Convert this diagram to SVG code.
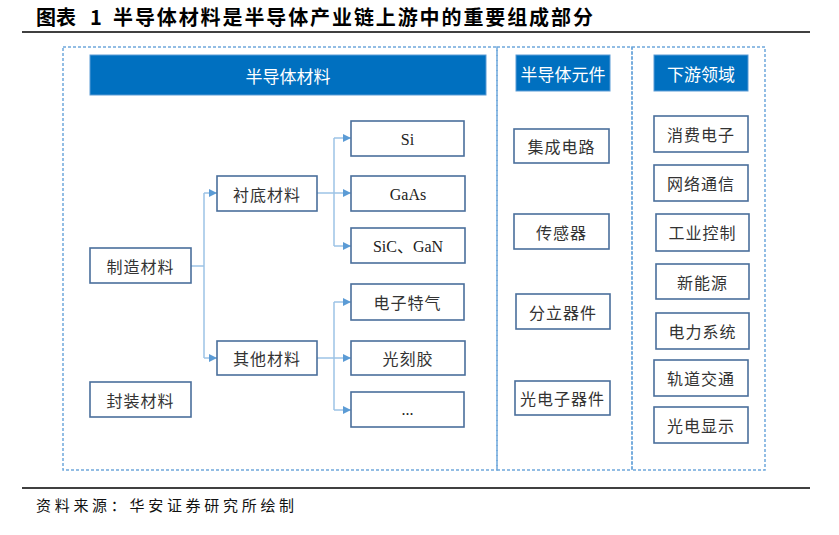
<svg xmlns="http://www.w3.org/2000/svg" width="839" height="535" viewBox="0 0 839 535">
<style>
.title{font-family:"Noto Sans CJK SC","Liberation Sans",sans-serif;font-weight:bold;font-size:20px;fill:#000}
.src{font-family:"Noto Sans CJK SC",sans-serif;font-size:15px;fill:#111;letter-spacing:3.7px}
.panel{fill:none;stroke:#6fa8dc;stroke-width:1.5;stroke-dasharray:3 2}
.hdr{fill:#0070c0;stroke:#5b9bd5;stroke-width:1}
.hdrt{font-family:"Noto Sans CJK SC",sans-serif;font-size:17px;fill:#fff;text-anchor:middle;dominant-baseline:central}
.box{fill:#fff;stroke:#4a6f9c;stroke-width:1.6}
.t{font-family:"Noto Sans CJK SC",sans-serif;font-size:16px;fill:#333;text-anchor:middle;dominant-baseline:central;letter-spacing:1px}
.tl{font-family:"Liberation Serif","Noto Sans CJK SC",serif;font-size:16px;fill:#222;text-anchor:middle;dominant-baseline:central}
.rule{stroke:#000;stroke-width:1.3}
.conn{fill:none;stroke:#9dc3e6;stroke-width:1.5}
</style>
<defs>
<marker id="arr" viewBox="0 0 10 10" refX="10" refY="5" markerWidth="8" markerHeight="8" markerUnits="userSpaceOnUse" orient="auto">
<path d="M0,0 L10,5 L0,10 z" fill="#5b9bd5"/>
</marker>
</defs>

<g id="title">
<text class="title" x="36" y="25">图表</text>
<text class="title" x="90" y="25">1</text>
<text class="title" x="113" y="25" letter-spacing="1.9">半导体材料是半导体产业链上游中的重要组成部分</text>
<line class="rule" x1="22" y1="32" x2="810" y2="32"/>
</g>

<g id="panels">
<rect class="panel" x="63" y="47" width="434" height="423"/>
<rect class="panel" x="497" y="47" width="135" height="423"/>
<rect class="panel" x="632" y="47" width="133" height="423"/>
</g>

<g id="header-materials"><rect class="hdr" x="90" y="55" width="396" height="40"/><text class="hdrt" x="288" y="75">半导体材料</text></g>
<g id="header-components"><rect class="hdr" x="516" y="55" width="94" height="36"/><text class="hdrt" x="563" y="73">半导体元件</text></g>
<g id="header-downstream"><rect class="hdr" x="654" y="55" width="94" height="36"/><text class="hdrt" x="701" y="73">下游领域</text></g>

<g id="connectors">
<path class="conn" d="M191,266 H204"/>
<path class="conn" d="M204,193 V358"/>
<path class="conn" d="M204,193 H217" marker-end="url(#arr)"/>
<path class="conn" d="M204,358 H217" marker-end="url(#arr)"/>
<path class="conn" d="M317,193 H334"/>
<path class="conn" d="M334,138 V246"/>
<path class="conn" d="M334,138 H351" marker-end="url(#arr)"/>
<path class="conn" d="M334,193 H351" marker-end="url(#arr)"/>
<path class="conn" d="M334,246 H351" marker-end="url(#arr)"/>
<path class="conn" d="M317,358 H334"/>
<path class="conn" d="M334,302 V410"/>
<path class="conn" d="M334,302 H351" marker-end="url(#arr)"/>
<path class="conn" d="M334,358 H351" marker-end="url(#arr)"/>
<path class="conn" d="M334,410 H351" marker-end="url(#arr)"/>
</g>

<g id="node-manufacturing"><rect class="box" x="90" y="248" width="101" height="35"/><text class="t" x="140.5" y="266">制造材料</text></g>
<g id="node-packaging"><rect class="box" x="90" y="382" width="101" height="35"/><text class="t" x="140.5" y="400">封装材料</text></g>
<g id="node-substrate"><rect class="box" x="217" y="176" width="100" height="35"/><text class="t" x="267" y="194">衬底材料</text></g>
<g id="node-other"><rect class="box" x="217" y="341" width="100" height="34"/><text class="t" x="267" y="358">其他材料</text></g>
<g id="node-si"><rect class="box" x="351" y="121" width="113" height="35"/><text class="tl" x="407.5" y="139">Si</text></g>
<g id="node-gaas"><rect class="box" x="351" y="176" width="114" height="35"/><text class="tl" x="408" y="194">GaAs</text></g>
<g id="node-sic"><rect class="box" x="351" y="228" width="114" height="35"/><text class="tl" x="408" y="246">SiC、GaN</text></g>
<g id="node-gas"><rect class="box" x="351" y="284" width="113" height="36"/><text class="t" x="407.5" y="302">电子特气</text></g>
<g id="node-photoresist"><rect class="box" x="351" y="341" width="114" height="34"/><text class="t" x="408" y="358">光刻胶</text></g>
<g id="node-etc"><rect class="box" x="351" y="392" width="113" height="35"/><text class="tl" x="407.5" y="409" font-size="13">...</text></g>

<g id="node-ic"><rect class="box" x="514" y="129" width="95" height="34"/><text class="t" x="561.5" y="146">集成电路</text></g>
<g id="node-sensor"><rect class="box" x="514" y="214" width="95" height="35"/><text class="t" x="561.5" y="232">传感器</text></g>
<g id="node-discrete"><rect class="box" x="516" y="294" width="94" height="35"/><text class="t" x="563" y="312">分立器件</text></g>
<g id="node-opto"><rect class="box" x="515" y="381" width="95" height="34"/><text class="t" x="562.5" y="398" letter-spacing="0">光电子器件</text></g>

<g id="node-consumer"><rect class="box" x="654" y="116" width="94" height="36"/><text class="t" x="701" y="134">消费电子</text></g>
<g id="node-network"><rect class="box" x="654" y="165" width="94" height="36"/><text class="t" x="701" y="183">网络通信</text></g>
<g id="node-industrial"><rect class="box" x="656" y="214" width="93" height="37"/><text class="t" x="702.5" y="232">工业控制</text></g>
<g id="node-newenergy"><rect class="box" x="656" y="264" width="93" height="35"/><text class="t" x="702.5" y="282">新能源</text></g>
<g id="node-power"><rect class="box" x="656" y="313" width="93" height="36"/><text class="t" x="702.5" y="331">电力系统</text></g>
<g id="node-rail"><rect class="box" x="654" y="360" width="94" height="36"/><text class="t" x="701" y="378">轨道交通</text></g>
<g id="node-display"><rect class="box" x="654" y="407" width="94" height="36"/><text class="t" x="701" y="425">光电显示</text></g>

<g id="footer">
<line class="rule" x1="22" y1="488" x2="810" y2="488"/>
<text class="src" x="36" y="511">资料来源：华安证券研究所绘制</text>
</g>
</svg>
